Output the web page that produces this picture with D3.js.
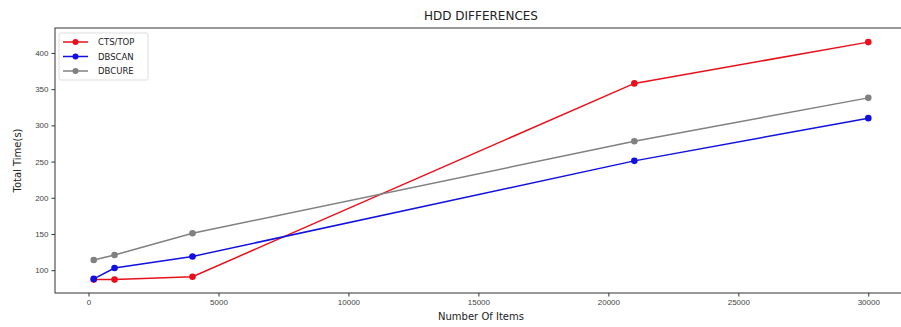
<!DOCTYPE html>
<html>
<head>
<meta charset="utf-8">
<script src="https://cdn.jsdelivr.net/npm/d3@7"></script>
<style>
  body { margin: 0; background: #fff; }
  svg { display: block; font-family: "DejaVu Sans", sans-serif; }
</style>
</head>
<body>
<div id="chart"></div>
<script>
const items = [200, 1000, 4000, 21000, 30000];
const seriesNames = ["CTS/TOP", "DBSCAN", "DBCURE"];
const seriesColors = ["#e8101a", "#1010e0", "#808080"];
const ctsValues = [87, 87, 91, 358, 415];
const dbscanValues = [88, 103, 119, 251, 310];
const dbcureValues = [114, 121, 151, 278, 338];
const xTicks = [0, 5000, 10000, 15000, 20000, 25000, 30000];
const yTicks = [100, 150, 200, 250, 300, 350, 400];

const width = 901, height = 327;
const plotLeft = 55, plotRight = 907, plotTop = 28, plotBottom = 293;

const svg = d3.select("#chart").append("svg")
  .attr("width", width).attr("height", height);

const x = d3.scaleLinear().domain([-1290, 31490]).range([plotLeft, plotRight]);
const y = d3.scaleLinear().domain([68.5, 434.5]).range([plotBottom, plotTop]);

// axes
const xAxis = svg.append("g")
  .attr("transform", `translate(0,${plotBottom})`)
  .call(d3.axisBottom(x).tickValues(xTicks).tickFormat(d3.format("d"))
    .tickSize(3.5).tickPadding(3).tickSizeOuter(0));
const yAxis = svg.append("g")
  .attr("transform", `translate(${plotLeft},0)`)
  .call(d3.axisLeft(y).tickValues(yTicks).tickFormat(d3.format("d"))
    .tickSize(3.5).tickPadding(3).tickSizeOuter(0));
[xAxis, yAxis].forEach((g) => {
  g.select(".domain").remove();
  g.selectAll("line").attr("stroke", "#333");
  g.selectAll("text").attr("fill", "#444").style("font-size", "8px");
});

// frame
svg.append("rect")
  .attr("x", plotLeft).attr("y", plotTop)
  .attr("width", plotRight - plotLeft).attr("height", plotBottom - plotTop)
  .attr("fill", "none").attr("stroke", "#333").attr("stroke-width", 1);

const series = [ctsValues, dbscanValues, dbcureValues];
const line = d3.line().x((d) => x(d[0])).y((d) => y(d[1]));

series.forEach((vals, i) => {
  const pts = items.map((n, j) => [n, vals[j]]);
  svg.append("path")
    .datum(pts)
    .attr("d", line)
    .attr("fill", "none")
    .attr("stroke", seriesColors[i])
    .attr("stroke-width", 1.5);
  svg.append("g").selectAll("circle")
    .data(pts).enter().append("circle")
    .attr("cx", (d) => x(d[0]))
    .attr("cy", (d) => y(d[1]))
    .attr("r", 3.3)
    .attr("fill", seriesColors[i]);
});

// title and labels
svg.append("text")
  .attr("x", (plotLeft + plotRight) / 2).attr("y", 20)
  .attr("text-anchor", "middle")
  .style("font-size", "12px").attr("fill", "#222")
  .text("HDD DIFFERENCES");

svg.append("text")
  .attr("x", (plotLeft + plotRight) / 2).attr("y", 320)
  .attr("text-anchor", "middle")
  .style("font-size", "10px").attr("fill", "#222")
  .text("Number Of Items");

svg.append("text")
  .attr("transform", `translate(21,${(plotTop + plotBottom) / 2}) rotate(-90)`)
  .attr("text-anchor", "middle")
  .style("font-size", "10px").attr("fill", "#222")
  .text("Total Time(s)");

// legend
const legend = svg.append("g").attr("transform", "translate(59,33)");
legend.append("rect")
  .attr("width", 89).attr("height", 47)
  .attr("rx", 2)
  .attr("fill", "#fff").attr("stroke", "#ddd");
seriesNames.forEach((name, i) => {
  const ly = 9 + i * 14.5;
  legend.append("line")
    .attr("x1", 4).attr("x2", 29).attr("y1", ly).attr("y2", ly)
    .attr("stroke", seriesColors[i]).attr("stroke-width", 1.5);
  legend.append("circle")
    .attr("cx", 16.5).attr("cy", ly).attr("r", 3)
    .attr("fill", seriesColors[i]);
  legend.append("text")
    .attr("x", 39).attr("y", ly + 3)
    .style("font-size", "8.5px").attr("fill", "#222")
    .text(name);
});
</script>
</body>
</html>
